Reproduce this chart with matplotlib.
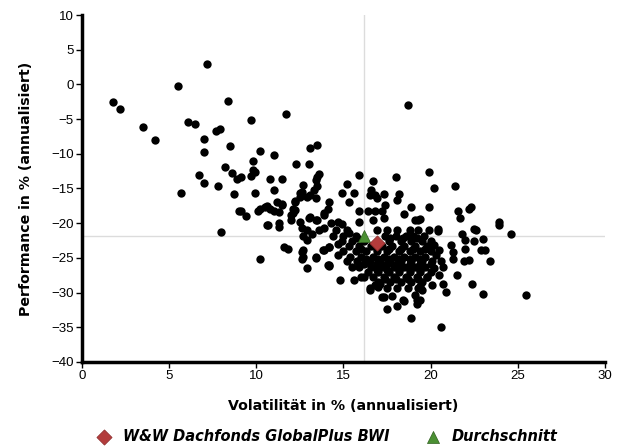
import matplotlib.pyplot as plt
import numpy as np

plt.rcParams['font.family'] = ['Liberation Sans', 'DejaVu Sans']

# fund universe: volatility (x) and performance (y), both in % p.a.
funds = [
    (1.8, -2.6), (2.2, -3.5), (3.5, -6.1), (4.2, -8.0), (5.5, -0.2), (5.7, -15.6),
    (6.1, -5.4), (6.5, -5.7), (7.2, 3.0), (7.0, -7.8), (7.0, -9.8), (6.7, -13.0),
    (7.0, -14.2), (7.8, -14.7), (7.7, -6.7), (7.9, -6.4), (8.4, -2.4), (8.5, -8.9),
    (8.2, -11.9), (8.6, -12.8), (8.9, -13.6), (9.1, -13.4), (8.7, -15.8), (9.0, -18.2),
    (9.4, -18.9), (9.7, -5.2), (9.8, -11.0), (9.8, -12.3), (9.9, -12.6), (9.7, -13.2),
    (10.2, -9.6), (9.9, -15.6), (10.1, -18.2), (10.8, -13.7), (11.0, -10.2), (11.0, -15.2),
    (11.5, -13.7), (11.7, -4.3), (10.5, -17.6), (10.8, -18.0), (11.0, -18.2), (11.3, -18.4),
    (11.2, -16.9), (11.5, -17.2), (12.3, -11.5), (12.2, -16.9), (12.1, -17.9), (12.1, -18.6),
    (12.6, -15.5), (12.5, -16.2), (13.0, -11.5), (13.1, -9.1), (13.5, -8.7), (13.0, -19.2),
    (13.4, -19.5), (13.5, -13.3), (18.7, -3.0), (13.6, -12.9), (13.4, -13.8), (13.5, -14.7),
    (15.9, -13.0), (16.7, -13.9), (15.2, -14.3), (18.0, -13.4), (19.9, -12.6), (20.2, -15.0),
    (21.4, -14.6), (14.9, -15.6), (15.6, -15.6), (15.3, -16.9), (16.6, -15.2), (16.8, -15.9),
    (16.5, -15.9), (17.3, -15.8), (16.9, -16.4), (17.4, -17.4), (18.2, -15.8), (18.1, -16.7),
    (18.9, -17.6), (18.5, -18.7), (19.1, -19.5), (19.3, -19.5), (19.9, -17.6), (21.6, -18.3),
    (22.2, -17.9), (22.3, -17.7), (21.7, -19.3), (23.9, -19.8), (19.4, -19.4), (15.9, -18.3),
    (16.4, -18.3), (16.8, -18.2), (17.2, -18.3), (16.7, -19.5), (17.3, -19.3), (15.9, -19.9),
    (14.7, -19.8), (14.9, -20.1), (14.3, -20.0), (12.7, -14.5), (12.5, -15.7), (12.9, -16.2),
    (13.4, -16.3), (13.3, -15.2), (13.1, -15.9), (12.2, -16.8), (14.2, -17.0), (14.1, -17.9),
    (13.9, -18.6), (11.5, -17.4), (10.6, -17.5), (10.2, -18.0), (9.1, -18.2), (12.0, -18.8),
    (12.2, -18.1), (12.0, -19.6), (12.5, -19.8), (13.1, -19.1), (13.5, -19.6), (13.9, -18.8),
    (12.9, -21.0), (11.3, -20.0), (10.7, -20.3), (8.0, -21.3), (10.2, -25.2), (11.6, -23.4),
    (11.8, -23.7), (12.6, -24.1), (12.7, -24.8), (12.6, -25.1), (12.7, -23.9), (12.9, -26.5),
    (13.4, -25.0), (13.9, -23.9), (14.2, -23.4), (14.1, -26.0), (12.7, -21.9), (12.9, -22.4),
    (13.2, -21.5), (13.6, -21.0), (13.9, -20.7), (12.6, -20.7), (11.3, -20.6), (10.6, -20.3),
    (14.2, -26.1), (14.8, -28.2), (15.6, -28.2), (15.5, -26.3), (14.7, -24.6), (16.0, -27.7),
    (16.5, -29.6), (17.0, -29.2), (17.3, -30.6), (17.5, -32.3), (18.1, -32.0), (18.5, -31.2),
    (18.9, -33.6), (19.1, -30.3), (19.2, -31.7), (19.5, -29.6), (17.2, -30.7), (17.8, -30.5),
    (18.4, -31.1), (19.2, -31.1), (16.5, -29.4), (16.8, -28.9), (17.1, -28.7), (16.2, -27.7),
    (20.1, -28.9), (20.7, -28.7), (20.9, -29.9), (20.6, -34.9), (25.5, -30.3), (23.0, -30.2),
    (22.4, -28.7), (21.5, -27.4), (23.4, -25.5), (21.9, -25.4), (22.2, -25.3), (21.2, -23.2),
    (21.3, -24.1), (21.3, -25.2), (22.0, -23.7), (22.9, -23.9), (23.1, -23.9), (20.4, -21.1),
    (21.8, -21.6), (22.6, -21.0), (23.0, -22.3), (22.0, -22.4), (22.5, -22.6), (24.6, -21.5),
    (23.9, -20.3), (20.4, -20.9), (22.5, -20.9), (20.2, -23.2), (20.5, -23.9), (20.3, -24.6),
    (20.6, -25.5), (20.7, -26.3), (20.2, -26.5), (20.5, -27.5), (19.8, -27.7), (19.4, -29.1),
    (19.4, -31.1), (14.2, -23.4), (13.4, -24.8), (13.8, -23.9), (14.2, -26.0),
    # dense core
    (14.6, -21.0), (15.2, -21.0), (16.9, -21.0), (17.5, -21.0), (18.1, -21.0), (18.8, -21.0), (19.3, -21.0), (19.9, -21.0),
    (14.4, -21.8), (15.0, -21.8), (15.7, -21.8), (17.4, -21.8), (18.0, -21.8), (18.6, -21.8), (19.0, -21.8), (19.6, -21.8),
    (14.9, -22.6), (15.5, -22.6), (16.2, -22.6), (17.6, -22.6), (18.3, -22.6), (18.9, -22.6), (19.5, -22.6), (20.0, -22.6),
    (15.3, -23.3), (15.9, -23.3), (16.6, -23.3), (17.2, -23.3), (17.8, -23.3), (18.5, -23.3), (19.1, -23.3), (19.8, -23.3),
    (15.0, -24.0), (15.7, -24.0), (16.3, -24.0), (16.9, -24.0), (17.5, -24.0), (18.2, -24.0), (18.8, -24.0), (19.4, -24.0), (20.0, -24.0),
    (15.4, -24.8), (16.0, -24.8), (16.7, -24.8), (17.3, -24.8), (17.9, -24.8), (18.5, -24.8), (19.1, -24.8), (19.7, -24.8),
    (15.2, -25.5), (15.8, -25.5), (16.5, -25.5), (17.1, -25.5), (17.7, -25.5), (18.3, -25.5), (18.9, -25.5), (19.5, -25.5), (20.1, -25.5),
    (15.9, -26.3), (16.6, -26.3), (17.2, -26.3), (17.9, -26.3), (18.5, -26.3), (19.1, -26.3), (19.7, -26.3),
    (16.4, -27.0), (17.0, -27.0), (17.6, -27.0), (18.2, -27.0), (18.8, -27.0), (19.4, -27.0), (20.0, -27.0),
    (16.7, -27.8), (17.3, -27.8), (17.9, -27.8), (18.6, -27.8), (19.2, -27.8), (19.8, -27.8),
    (17.0, -28.5), (17.7, -28.5), (18.3, -28.5), (18.9, -28.5), (19.5, -28.5),
    (17.5, -29.3), (18.1, -29.3), (18.7, -29.3), (19.3, -29.3),
    (16.0, -23.7), (16.9, -23.7), (17.6, -23.7), (18.3, -23.7), (19.0, -23.7), (19.7, -23.7),
    (16.3, -25.1), (17.0, -25.1), (17.6, -25.1), (18.2, -25.1), (18.8, -25.1), (19.4, -25.1),
    (16.2, -25.9), (16.9, -25.9), (17.5, -25.9), (18.1, -25.9), (18.8, -25.9), (19.4, -25.9), (20.0, -25.9),
    (16.9, -26.7), (17.5, -26.7), (18.2, -26.7), (18.8, -26.7), (19.4, -26.7),
    (17.4, -28.1), (18.0, -28.1), (18.7, -28.1), (19.3, -28.1),
    (17.7, -22.2), (18.4, -22.2), (19.2, -22.2),
    (15.3, -21.4), (15.8, -22.2), (14.7, -23.0),
]
fund_vol = [p[0] for p in funds]
fund_perf = [p[1] for p in funds]

# highlighted fund and peer average
ww_name = 'W&W Dachfonds GlobalPlus BWI'
ww_vol, ww_perf = 16.9, -22.9
avg_name = 'Durchschnitt'
avg_vol, avg_perf = 16.2, -21.9

fig = plt.figure(figsize=(6.28, 4.48), dpi=100)
ax = fig.add_axes([0.1306, 0.192, 0.8325, 0.7745])

# crosshair at the average
ax.axvline(avg_vol, color='#dcdcdc', linewidth=1.0, zorder=1)
ax.axhline(avg_perf, color='#dcdcdc', linewidth=1.0, zorder=1)

ax.scatter(fund_vol, fund_perf, s=36, color='black', linewidths=0, zorder=2)
ax.scatter([avg_vol], [avg_perf], marker='^', s=75, color='#4b9033',
           edgecolors='#2f5f1f', linewidths=0.5, zorder=3, label=avg_name)
ax.scatter([ww_vol], [ww_perf], marker='D', s=60, color='#b33c3c',
           edgecolors='#8a2a2a', linewidths=0.5, zorder=4, label=ww_name)

ax.set_xlim(0, 30)
ax.set_ylim(-40, 10)
ax.set_xticks(np.arange(0, 31, 5))
ax.set_yticks(np.arange(-40, 11, 5))

ax.spines['top'].set_visible(False)
ax.spines['right'].set_visible(False)
ax.spines['left'].set_linewidth(2.5)
ax.spines['bottom'].set_linewidth(2.5)
ax.tick_params(direction='out', length=4, width=1, labelsize=9.5, pad=2)

label_font = {'family': 'DejaVu Sans', 'weight': 'bold', 'size': 10.2}
ax.set_xlabel('Volatilität in % (annualisiert)', fontdict=label_font, labelpad=12)
ax.set_ylabel('Performance in % (annualisiert)', fontdict=label_font, labelpad=13)

handles, labels = ax.get_legend_handles_labels()
fig.legend(handles[::-1], labels[::-1], loc='lower center', bbox_to_anchor=(0.515, -0.02),
           ncol=2, frameon=False, handletextpad=0.3, columnspacing=2.0,
           prop={'family': 'DejaVu Sans', 'weight': 'bold', 'style': 'italic', 'size': 10.5})

fig.savefig('out.png', dpi=100)
